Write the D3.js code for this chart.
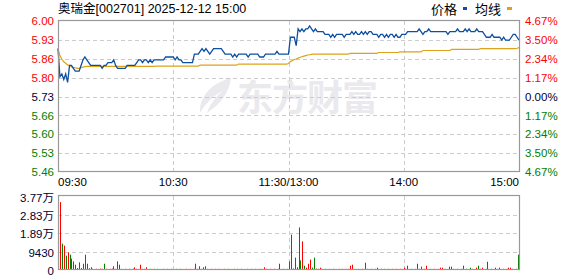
<!DOCTYPE html>
<html>
<head>
<meta charset="utf-8">
<script src="https://cdn.jsdelivr.net/npm/d3@7"></script>
<style>
body { margin: 0; background: #fff; }
svg { display: block; }
</style>
</head>
<body>
<script>
var stockTitle = "奥瑞金[002701] 2025-12-12 15:00";
var preClose = 5.73;
var maxPct = 4.67;

var timeTicks = [0, 60, 120, 180, 240];
var timeLabels = ["09:30", "10:30", "11:30/13:00", "14:00", "15:00"];

var priceLabels = ["5.46", "5.53", "5.60", "5.66", "5.73", "5.80", "5.86", "5.93", "6.00"];
var pctLabels = ["4.67%", "3.50%", "2.34%", "1.17%", "0.00%", "1.17%", "2.34%", "3.50%", "4.67%"];

var volTicks = [0, 9425, 18850, 28275, 37700];
var volLabels = ["0", "9430", "1.89万", "2.83万", "3.77万"];

// minute close prices, 09:30 .. 11:30, 13:01 .. 15:00
var prices = [
  5.90, 5.80, 5.81, 5.79, 5.81, 5.78, 5.84, 5.84, 5.83, 5.82,
  5.82, 5.82, 5.84, 5.86, 5.87, 5.86, 5.85, 5.84, 5.84, 5.84,
  5.84, 5.84, 5.84, 5.83, 5.84, 5.84, 5.85, 5.85, 5.85, 5.86,
  5.84, 5.83, 5.83, 5.83, 5.83, 5.83, 5.84, 5.84, 5.84, 5.84,
  5.84, 5.85, 5.86, 5.86, 5.85, 5.86, 5.86, 5.85, 5.86, 5.85,
  5.86, 5.86, 5.86, 5.86, 5.86, 5.86, 5.87, 5.87, 5.87, 5.87,
  5.87, 5.86, 5.87, 5.86, 5.86, 5.85, 5.85, 5.85, 5.85, 5.85,
  5.85, 5.88, 5.88, 5.88, 5.89, 5.90, 5.89, 5.90, 5.89, 5.88,
  5.89, 5.90, 5.90, 5.90, 5.90, 5.90, 5.89, 5.88, 5.88, 5.88,
  5.88, 5.87, 5.88, 5.87, 5.88, 5.88, 5.88, 5.88, 5.88, 5.87,
  5.88, 5.88, 5.88, 5.88, 5.88, 5.87, 5.87, 5.87, 5.88, 5.88,
  5.88, 5.88, 5.88, 5.88, 5.89, 5.88, 5.88, 5.88, 5.88, 5.88,
  5.88, 5.94, 5.94, 5.94, 5.91, 5.97, 5.96, 5.97, 5.96, 5.97,
  5.97, 5.98, 5.97, 5.96, 5.97, 5.96, 5.96, 5.96, 5.96, 5.95,
  5.95, 5.95, 5.94, 5.95, 5.94, 5.95, 5.95, 5.95, 5.95, 5.94,
  5.95, 5.95, 5.95, 5.96, 5.95, 5.96, 5.95, 5.95, 5.96, 5.95,
  5.96, 5.95, 5.96, 5.96, 5.95, 5.95, 5.95, 5.94, 5.95, 5.95,
  5.94, 5.95, 5.94, 5.95, 5.95, 5.94, 5.95, 5.94, 5.94, 5.95,
  5.95, 5.95, 5.96, 5.96, 5.96, 5.96, 5.96, 5.96, 5.97, 5.96,
  5.95, 5.96, 5.96, 5.97, 5.96, 5.96, 5.96, 5.96, 5.96, 5.96,
  5.96, 5.96, 5.96, 5.95, 5.96, 5.96, 5.96, 5.96, 5.97, 5.96,
  5.96, 5.96, 5.97, 5.96, 5.97, 5.96, 5.96, 5.96, 5.97, 5.96,
  5.96, 5.96, 5.95, 5.94, 5.94, 5.94, 5.95, 5.94, 5.94, 5.94,
  5.94, 5.93, 5.94, 5.93, 5.93, 5.93, 5.94, 5.95, 5.95, 5.94,
  5.93
];

// average price line
var avgPrices = [
  5.900, 5.875, 5.862, 5.853, 5.848, 5.842, 5.840, 5.836, 5.833, 5.832,
  5.830, 5.830, 5.832, 5.834, 5.836, 5.837, 5.837, 5.837, 5.837, 5.837,
  5.837, 5.837, 5.837, 5.837, 5.837, 5.837, 5.837, 5.837, 5.837, 5.837,
  5.837, 5.837, 5.837, 5.837, 5.837, 5.837, 5.837, 5.837, 5.837, 5.837,
  5.837, 5.837, 5.837, 5.837, 5.837, 5.837, 5.837, 5.837, 5.837, 5.837,
  5.837, 5.838, 5.838, 5.838, 5.838, 5.838, 5.838, 5.838, 5.838, 5.838,
  5.838, 5.838, 5.838, 5.838, 5.838, 5.838, 5.838, 5.838, 5.838, 5.838,
  5.838, 5.838, 5.838, 5.838, 5.841, 5.841, 5.841, 5.841, 5.841, 5.841,
  5.841, 5.841, 5.841, 5.841, 5.841, 5.841, 5.841, 5.841, 5.841, 5.841,
  5.841, 5.841, 5.841, 5.841, 5.845, 5.845, 5.845, 5.845, 5.845, 5.845,
  5.845, 5.845, 5.845, 5.845, 5.845, 5.845, 5.845, 5.845, 5.845, 5.845,
  5.845, 5.845, 5.845, 5.845, 5.845, 5.845, 5.845, 5.845, 5.845, 5.845,
  5.847, 5.854, 5.857, 5.861, 5.863, 5.866, 5.869, 5.871, 5.873, 5.875,
  5.877, 5.878, 5.879, 5.880, 5.880, 5.880, 5.880, 5.880, 5.880, 5.880,
  5.880, 5.880, 5.880, 5.880, 5.880, 5.880, 5.880, 5.880, 5.880, 5.880,
  5.880, 5.880, 5.883, 5.883, 5.883, 5.883, 5.883, 5.883, 5.883, 5.883,
  5.883, 5.883, 5.883, 5.883, 5.883, 5.883, 5.883, 5.886, 5.886, 5.886,
  5.886, 5.886, 5.886, 5.886, 5.886, 5.886, 5.886, 5.886, 5.888, 5.888,
  5.888, 5.888, 5.888, 5.888, 5.888, 5.888, 5.888, 5.888, 5.888, 5.888,
  5.893, 5.893, 5.893, 5.893, 5.893, 5.893, 5.893, 5.893, 5.893, 5.893,
  5.893, 5.893, 5.893, 5.893, 5.893, 5.897, 5.897, 5.897, 5.897, 5.897,
  5.897, 5.897, 5.897, 5.897, 5.897, 5.897, 5.897, 5.897, 5.897, 5.897,
  5.900, 5.900, 5.900, 5.900, 5.900, 5.900, 5.900, 5.900, 5.900, 5.900,
  5.900, 5.900, 5.900, 5.900, 5.900, 5.900, 5.900, 5.900, 5.900, 5.901,
  5.903
];

// volume per minute (shares)
var volumes = [
  34600, 13400, 12400, 7300, 9000, 7800, 5800, 4400, 2700, 1000,
  3900, 1000, 3200, 7800, 3200, 900, 1400, 600, 500, 600,
  500, 700, 600, 3200, 600, 500, 600, 700, 1900, 600,
  4400, 2700, 600, 500, 600, 500, 600, 500, 700, 1400,
  600, 500, 2700, 600, 600, 1400, 500, 600, 500, 600,
  500, 600, 500, 500, 600, 500, 600, 500, 600, 500,
  500, 600, 500, 600, 500, 500, 600, 500, 600, 500,
  600, 3200, 600, 1900, 600, 1400, 1900, 600, 500, 600,
  500, 600, 500, 600, 500, 500, 600, 500, 600, 500,
  500, 600, 500, 600, 500, 600, 500, 500, 600, 500,
  600, 500, 600, 500, 500, 600, 500, 1400, 600, 500,
  600, 500, 600, 500, 600, 3200, 500, 600, 500, 600,
  4400, 18000, 800, 6300, 1400, 21700, 4900, 14600, 2200, 1200,
  3200, 5300, 1200, 6300, 700, 600, 1200, 600, 500, 600,
  500, 600, 500, 600, 500, 500, 600, 500, 600, 500,
  600, 600, 2200, 2700, 600, 500, 600, 500, 600, 500,
  3700, 600, 500, 600, 500, 600, 1200, 500, 600, 500,
  600, 500, 600, 500, 600, 500, 600, 500, 600, 500,
  1200, 600, 2200, 500, 600, 500, 600, 3200, 600, 1700,
  500, 600, 2200, 500, 600, 500, 600, 500, 600, 1200,
  1200, 500, 600, 500, 1700, 1700, 600, 500, 600, 500,
  600, 2200, 500, 600, 500, 1200, 600, 500, 1200, 2200,
  600, 1200, 500, 600, 4200, 500, 600, 500, 1200, 600,
  1200, 500, 600, 500, 600, 1200, 1200, 600, 500, 600,
  7800
];

var W = 578, H = 276;
var left = 58, right = 519;
var pTop = 21, pBottom = 172;
var vTop = 196, vBottom = 270;

var upColor = "#ff0000", downColor = "#008000", flatColor = "#000033";
var numFont = "'Liberation Sans', Arial, sans-serif";
var cjkFont = "'Liberation Sans', 'Noto Sans CJK SC', sans-serif";

var svg = d3.select("body").append("svg")
    .attr("width", W)
    .attr("height", H)
    .style("font-family", numFont);

var step = preClose * maxPct / 100;
var xScale = d3.scaleLinear().domain([0, 240]).range([left, right]);
var yScale = d3.scaleLinear().domain([preClose - step, preClose + step]).range([pBottom, pTop]);
var vxScale = d3.scaleLinear().domain([0, 240]).range([left + 2, right - 1]);
var vyScale = d3.scaleLinear().domain([0, d3.max(volTicks)]).range([vBottom, vTop]);

var priceTicks = d3.range(-4, 5).map(function(k) { return preClose + k * step / 4; });

// watermark
var wm = svg.append("g").attr("fill", "#e9e9ee");
wm.append("path")
    .attr("d", "M231,78 C214,82 199,95 200,113 C205,104 213,96 222,91 C214,99 209,106 207,113 C219,105 229,94 231,78 Z");
wm.append("text")
    .attr("x", 237)
    .attr("y", 111)
    .attr("font-family", "'Noto Sans CJK SC', sans-serif")
    .attr("font-weight", "bold")
    .attr("font-size", 36)
    .attr("letter-spacing", -1)
    .text("东方财富");

// grid
var grid = svg.append("g")
    .attr("stroke", "#cccccc")
    .attr("stroke-dasharray", "4,3")
    .attr("shape-rendering", "crispEdges");

grid.selectAll(".pg").data(priceTicks.slice(1, 8)).enter().append("line")
    .attr("x1", left).attr("x2", right)
    .attr("y1", function(d) { return Math.round(yScale(d)) + 0.5; })
    .attr("y2", function(d) { return Math.round(yScale(d)) + 0.5; });

grid.selectAll(".vg").data(volTicks.slice(1, 4)).enter().append("line")
    .attr("x1", left).attr("x2", right)
    .attr("y1", function(d) { return Math.round(vyScale(d)) + 0.5; })
    .attr("y2", function(d) { return Math.round(vyScale(d)) + 0.5; });

grid.selectAll(".tg").data(timeTicks.slice(1, 4)).enter().append("line")
    .attr("x1", function(d) { return Math.round(xScale(d)) + 0.5; })
    .attr("x2", function(d) { return Math.round(xScale(d)) + 0.5; })
    .attr("y1", pTop).attr("y2", pBottom);

grid.selectAll(".tg2").data(timeTicks.slice(1, 4)).enter().append("line")
    .attr("x1", function(d) { return Math.round(xScale(d)) + 0.5; })
    .attr("x2", function(d) { return Math.round(xScale(d)) + 0.5; })
    .attr("y1", vTop).attr("y2", vBottom);

// volume bars
svg.append("g").selectAll("rect").data(volumes).enter().append("rect")
    .attr("x", function(d, i) { return Math.round(vxScale(i)); })
    .attr("y", function(d) { return vyScale(d); })
    .attr("width", 1)
    .attr("height", function(d) { return vBottom - vyScale(d); })
    .attr("fill", function(d, i) {
        return (i == 0 || prices[i] >= prices[i - 1]) ? upColor : downColor;
    });

// lines
var line = d3.line()
    .x(function(d, i) { return xScale(i); })
    .y(function(d) { return yScale(d); });

svg.append("path").attr("d", line(avgPrices))
    .attr("fill", "none").attr("stroke", "#dea21a").attr("stroke-width", 1.2);
svg.append("path").attr("d", line(prices))
    .attr("fill", "none").attr("stroke", "#0d4fa0").attr("stroke-width", 1.3);

// frames
svg.append("rect").attr("x", left + 0.5).attr("y", pTop - 0.5)
    .attr("width", right - left).attr("height", pBottom - pTop)
    .attr("fill", "none").attr("stroke", "#999").attr("stroke-width", 1.2);
svg.append("rect").attr("x", left + 0.5).attr("y", vTop - 0.5)
    .attr("width", right - left).attr("height", vBottom - vTop)
    .attr("fill", "none").attr("stroke", "#999").attr("stroke-width", 1.2);

// price labels
function tickColor(i) { return i > 4 ? upColor : (i < 4 ? downColor : flatColor); }

svg.selectAll(".pl").data(priceTicks).enter().append("text")
    .attr("x", 54)
    .attr("y", function(d) { return yScale(d); })
    .attr("dy", "0.36em")
    .attr("text-anchor", "end")
    .attr("font-size", 11.5)
    .attr("fill", function(d, i) { return tickColor(i); })
    .text(function(d, i) { return priceLabels[i]; });

svg.selectAll(".rl").data(priceTicks).enter().append("text")
    .attr("x", 525)
    .attr("y", function(d) { return yScale(d); })
    .attr("dy", "0.36em")
    .attr("font-size", 11.5)
    .attr("fill", function(d, i) { return tickColor(i); })
    .text(function(d, i) { return pctLabels[8 - i]; });

// volume labels
svg.selectAll(".vl").data(volTicks).enter().append("text")
    .attr("x", 54)
    .attr("y", function(d, i) { return vyScale(d) + (i == 4 ? 1.5 : 1); })
    .attr("dy", "0.36em")
    .attr("text-anchor", "end")
    .attr("font-size", 11.5)
    .attr("font-family", cjkFont)
    .attr("fill", flatColor)
    .text(function(d, i) { return volLabels[i]; });

// time labels
svg.selectAll(".tl").data(timeTicks).enter().append("text")
    .attr("x", function(d) { return xScale(d); })
    .attr("y", 186)
    .attr("font-size", 11.5)
    .attr("text-anchor", function(d, i) { return i == 0 ? "start" : (i == 4 ? "end" : "middle"); })
    .attr("fill", "#000")
    .text(function(d, i) { return timeLabels[i]; });

// title and legend
svg.append("text").attr("x", 58).attr("y", 13)
    .attr("font-family", cjkFont).attr("font-size", 12.5).attr("fill", "#000")
    .text(stockTitle);

svg.append("text").attr("x", 431).attr("y", 14)
    .attr("font-family", "'Noto Sans CJK SC', sans-serif").attr("font-size", 13).attr("fill", "#000")
    .text("价格");
svg.append("rect").attr("x", 463).attr("y", 7).attr("width", 4).attr("height", 3).attr("fill", "#0d4fa0");
svg.append("text").attr("x", 475).attr("y", 14)
    .attr("font-family", "'Noto Sans CJK SC', sans-serif").attr("font-size", 13).attr("fill", "#000")
    .text("均线");
svg.append("rect").attr("x", 507).attr("y", 7).attr("width", 5).attr("height", 3).attr("fill", "#dea21a");
</script>
</body>
</html>
